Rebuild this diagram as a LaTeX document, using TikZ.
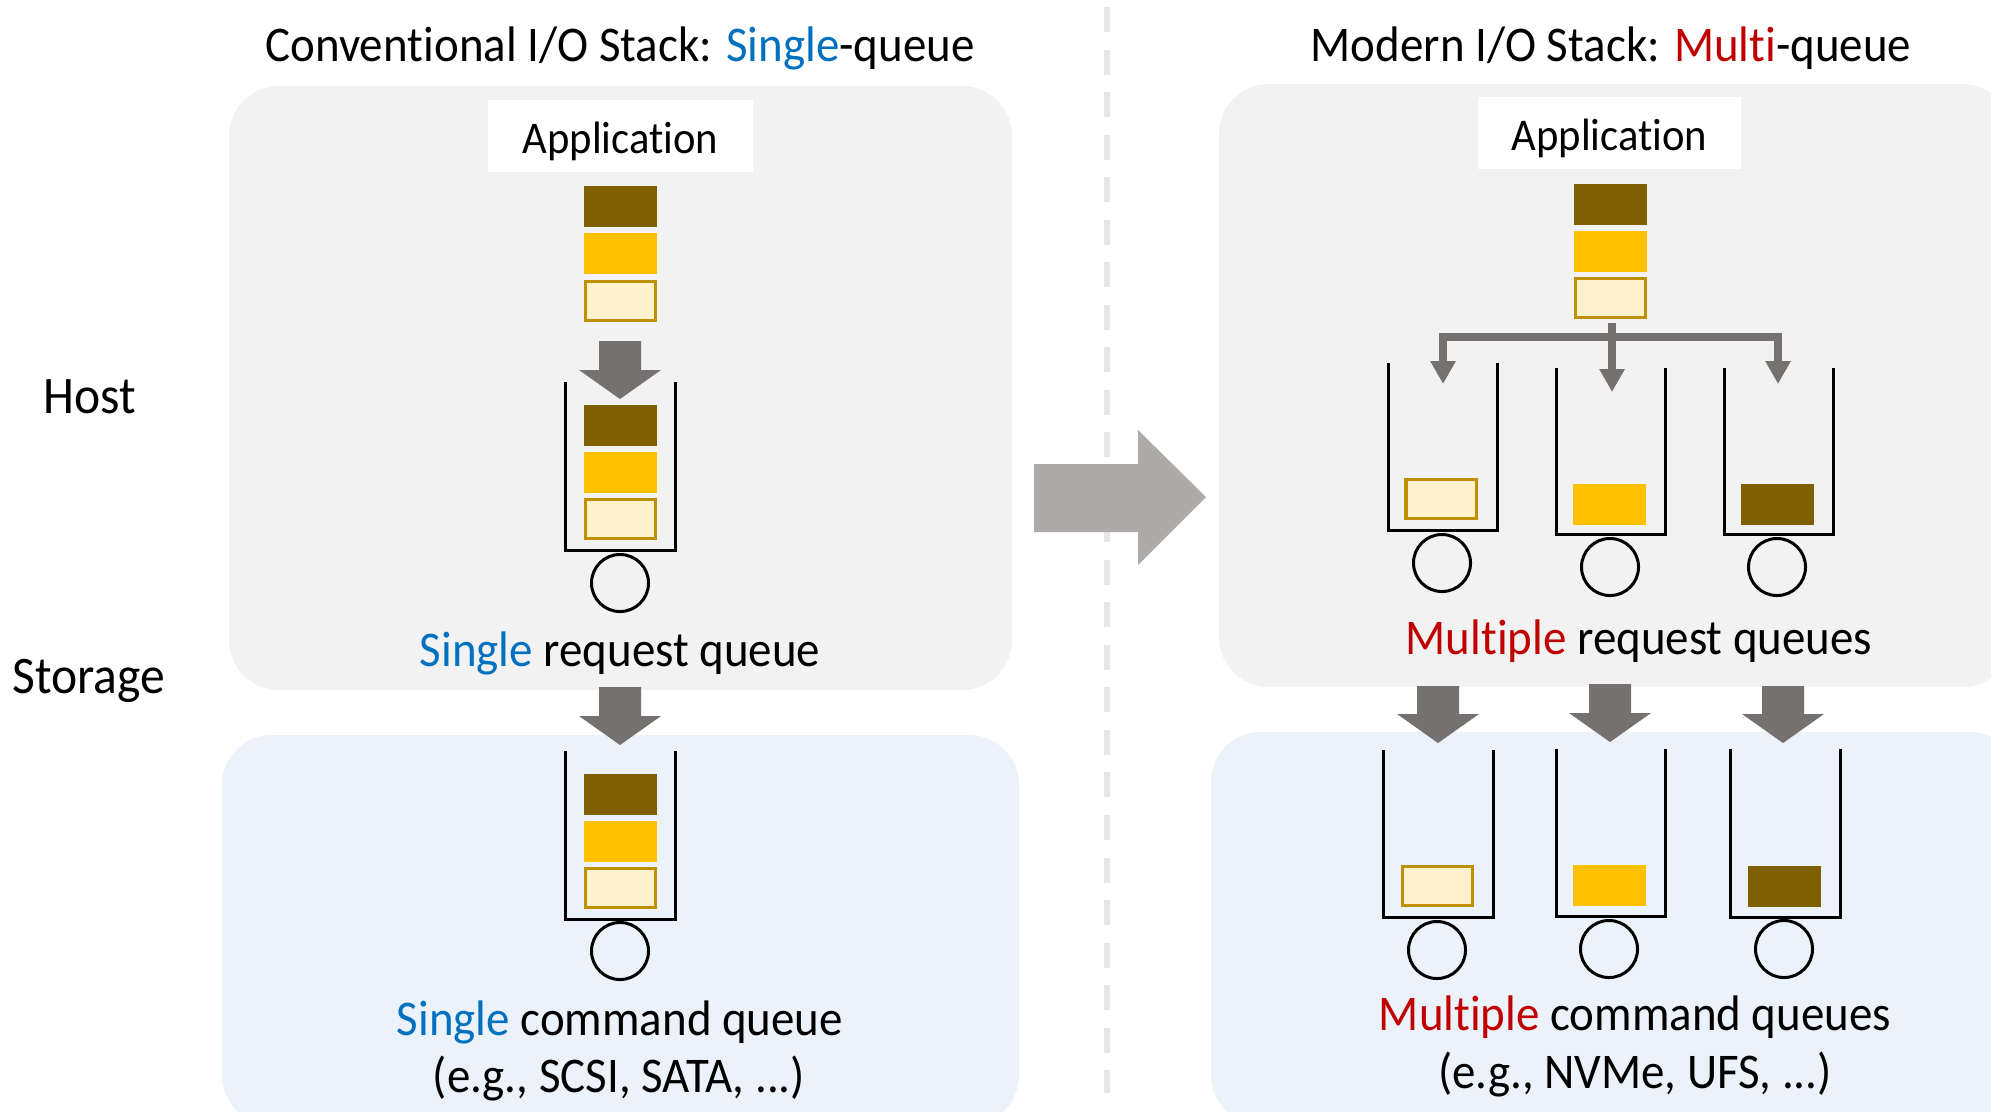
\documentclass[tikz,border=0pt]{standalone}
\usepackage{fontspec}
\setmainfont{Carlito}[FakeStretch=0.94, Ligatures=NoCommon]
\usetikzlibrary{arrows.meta}
\definecolor{darkblk}{HTML}{7F6000}
\definecolor{goldblk}{HTML}{FFC000}
\definecolor{paleblk}{HTML}{FFF2CC}
\definecolor{paleedge}{HTML}{BF9000}
\definecolor{hostbg}{HTML}{F2F2F2}
\definecolor{devbg}{HTML}{ECF2FA}
\definecolor{flowgray}{HTML}{767171}
\definecolor{biggray}{HTML}{AEAAAA}
\definecolor{sepgray}{HTML}{E7E6E6}
\definecolor{sblue}{HTML}{0070C0}
\definecolor{mred}{HTML}{C00000}
% one drawing unit = 0.01cm
\tikzset{
  x=0.01cm, y=-0.01cm,
  lbl/.style={inner sep=0pt, font=\fontsize{14.2pt}{17pt}\selectfont},
  side/.style={inner sep=0pt, font=\fontsize{15pt}{18pt}\selectfont},
  appbox/.style={fill=white, minimum width=2.65cm, minimum height=0.72cm, inner sep=0pt},
  apptext/.style={inner sep=0pt, font=\fontsize{12.9pt}{16pt}\selectfont},
  blk/.style={minimum width=0.73cm, minimum height=0.41cm, inner sep=0pt},
  dblk/.style={blk, fill=darkblk},
  yblk/.style={blk, fill=goldblk},
  lblk/.style={blk, fill=paleblk, draw=paleedge, line width=0.03cm,
               minimum width=0.70cm, minimum height=0.39cm},
  tube/.style={draw=black, line width=0.03cm},
  disk/.style={circle, draw=black, line width=0.03cm, minimum size=0.57cm, inner sep=0pt},
  branch/.style={draw=flowgray, line width=0.08cm},
  bhead/.style={-{Triangle[width=0.24cm, length=0.23cm]}},
  bboth/.style={{Triangle[width=0.24cm, length=0.23cm]}-{Triangle[width=0.24cm, length=0.23cm]}},
}
% fat downward arrow: centre x, top y, tip y
\newcommand{\fatdown}[3]{%
  \fill[flowgray] (#1-21,#2) -- (#1+21,#2) -- (#1+21,#3-29) -- (#1+41,#3-29)
    -- (#1,#3) -- (#1-41,#3-29) -- (#1-21,#3-29) -- cycle;}
% open queue: left x, right x, top y, bottom y
\newcommand{\queuetube}[4]{%
  \draw[tube] (#1,#3) -- (#1,#4) -- (#2,#4) -- (#2,#3);}
\begin{document}
\begin{tikzpicture}
\useasboundingbox (0,0) rectangle (1991,1111);
\clip (0,0) rectangle (1991,1111);
\fill[white] (0,0) rectangle (1991,1111);

% separator
\draw[sepgray, line width=0.06cm, dash pattern=on 0.25cm off 0.175cm] (1107,7) -- (1107,1093);

% background panels
\fill[hostbg, rounded corners=0.5cm] (229,86) rectangle (1012,690);
\fill[devbg, rounded corners=0.5cm] (222,735) rectangle (1019,1125);
\fill[hostbg, rounded corners=0.5cm] (1219,84) rectangle (2012,687);
\fill[devbg, rounded corners=0.5cm] (1211,732) rectangle (2020,1125);

% titles and side labels
\node[lbl] (titleL) at (620,48) {Conven\kern0pt tional I/O Stack: \textcolor{sblue}{Single}-queue};
\node[lbl] (titleR) at (1611,48) {Modern I/O Stack: \textcolor{mred}{Multi}-queue};
\node[side] (host) at (90,397) {Host};
\node[side] (storage) at (89,681) {Storage};

% transition arrow
\fill[biggray] (1034,464) -- (1138,464) -- (1138,430) -- (1206,497)
  -- (1138,565) -- (1138,532) -- (1034,532) -- cycle;

% ---------------- single-queue stack ----------------
\node[appbox] (appL) at (620.5,136) {};
\node[apptext] (appLt) at (620.5,141) {Application};
\node[dblk] (aL1) at (620.5,206.5) {};
\node[yblk] (aL2) at (620.5,253.5) {};
\node[lblk] (aL3) at (620.5,301) {};

\queuetube{565}{675}{382}{550}
\node[dblk] (rL1) at (620.5,425.5) {};
\node[yblk] (rL2) at (620.5,472.5) {};
\node[lblk] (rL3) at (620.5,519) {};
\node[disk] (dL) at (620,583) {};
\fatdown{620}{341}{399}
\node[lbl] (rqL) at (620,653) {\textcolor{sblue}{Single} request queue};

\fatdown{620}{687}{745}
\queuetube{565}{675}{751}{919}
\node[dblk] (cL1) at (620.5,794) {};
\node[yblk] (cL2) at (620.5,841) {};
\node[lblk] (cL3) at (620.5,887.5) {};
\node[disk] (eL) at (620,951) {};
\node[lbl] (cqL) at (620,1022) {\textcolor{sblue}{Single} command queue};
\node[lbl] (exL) at (619,1079) {(e.g., SCSI, SATA, ...)};

% ---------------- multi-queue stack ----------------
\node[appbox, minimum width=2.63cm] (appR) at (1609.5,133) {};
\node[apptext] (appRt) at (1609.5,138) {Application};
\node[dblk] (aR1) at (1610.5,204) {};
\node[yblk] (aR2) at (1610.5,251) {};
\node[lblk] (aR3) at (1610.5,297.5) {};

% fan-out from the request stream to the three queues
\coordinate (fork) at (1612,323);
\draw[branch, bhead] (fork) -- (1612,392);
\draw[branch, bboth, miter limit=10]
  (1443,384) -- (1443,337) -- (1778,337) -- (1778,384);

\queuetube{1388}{1497}{363}{530}
\queuetube{1556}{1665}{368}{534}
\queuetube{1724}{1833}{368}{534}
\node[lblk] (rR1) at (1441,499) {};
\node[yblk] (rR2) at (1609.5,504) {};
\node[dblk] (rR3) at (1777.5,504) {};
\node[disk] (dR1) at (1442,563) {};
\node[disk] (dR2) at (1610,567) {};
\node[disk] (dR3) at (1777,567) {};
\node[lbl] (rqR) at (1639,641) {\textcolor{mred}{Multiple} request queues};

\fatdown{1438}{686}{743}
\fatdown{1610}{684}{742}
\fatdown{1783}{686}{743}
\queuetube{1383}{1493}{750}{917}
\queuetube{1556}{1665}{749}{916}
\queuetube{1730}{1840}{749}{917}
\node[lblk] (cR1) at (1437.5,886) {};
\node[yblk] (cR2) at (1609.5,885) {};
\node[dblk] (cR3) at (1784.5,886) {};
\node[disk] (eR1) at (1437,950) {};
\node[disk] (eR2) at (1609,949) {};
\node[disk] (eR3) at (1784,949) {};
\node[lbl] (cqR) at (1635,1017) {\textcolor{mred}{Multiple} command queues};
\node[lbl] (exR) at (1635,1075) {(e.g., NVMe, UFS, ...)};
\end{tikzpicture}
\end{document}
